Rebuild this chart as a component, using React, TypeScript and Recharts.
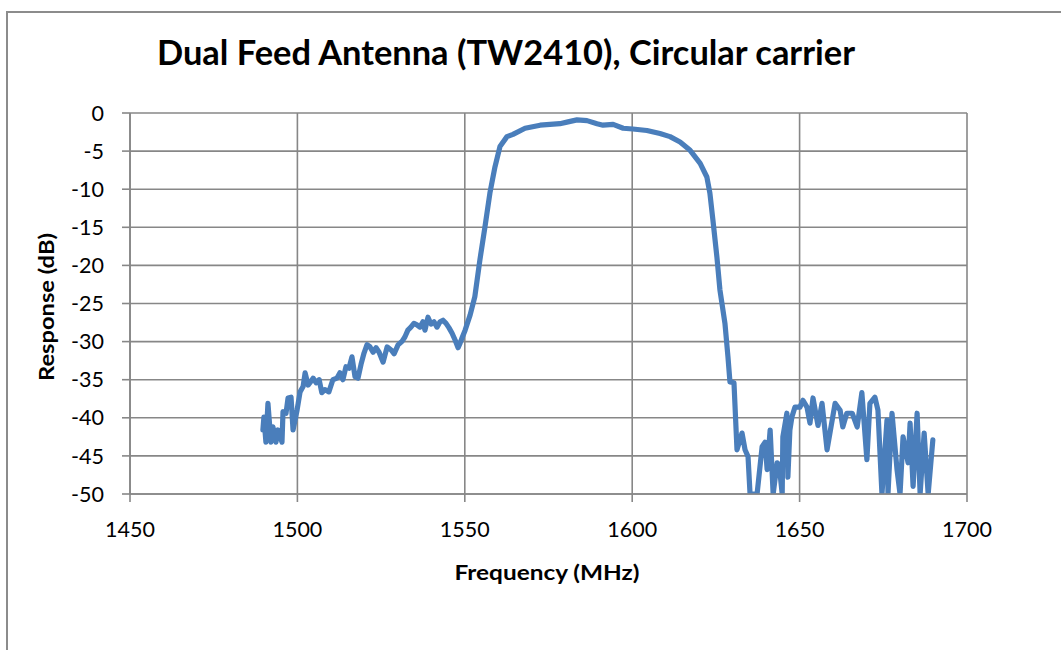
import React from 'react';
import { LineChart, Line, XAxis, YAxis, CartesianGrid } from 'recharts';

const freqMHz = [
  1489.7, 1490.0, 1490.6, 1491.2, 1492.1, 1492.7, 1493.6, 1494.2, 1495.4, 1495.7,
  1496.6, 1497.2, 1498.1, 1498.7, 1499.9, 1500.8, 1501.7, 1502.3, 1503.2, 1504.1,
  1504.7, 1505.6, 1506.5, 1507.3, 1508.2, 1509.4, 1510.6, 1511.8, 1512.7, 1513.6,
  1514.5, 1515.4, 1516.3, 1517.2, 1518.1, 1519.0, 1519.9, 1520.8, 1521.7, 1522.6,
  1523.5, 1524.4, 1525.6, 1526.8, 1528.0, 1528.9, 1530.1, 1531.2, 1532.1, 1533.0,
  1533.9, 1534.8, 1535.7, 1536.6, 1537.5, 1538.1, 1539.0, 1539.9, 1540.8, 1541.7,
  1542.6, 1543.5, 1544.4, 1545.3, 1546.2, 1547.1, 1548.0, 1548.6, 1549.2, 1550.1,
  1551.6, 1553.0, 1554.5, 1556.0, 1557.5, 1559.0, 1560.5, 1562.6, 1564.4, 1568.0,
  1572.5, 1578.4, 1580.5, 1583.5, 1586.5, 1589.5, 1591.3, 1594.3, 1597.3, 1600.2,
  1604.4, 1608.3, 1611.3, 1614.3, 1617.3, 1620.3, 1622.3, 1623.2, 1624.1, 1625.3,
  1626.2, 1627.7, 1628.6, 1629.2, 1630.4, 1631.3, 1632.8, 1633.7, 1634.6, 1635.2,
  1637.3, 1638.8, 1639.7, 1640.3, 1641.2, 1642.1, 1643.3, 1643.9, 1644.8, 1645.0,
  1646.2, 1646.5, 1647.1, 1647.7, 1648.6, 1650.1, 1651.0, 1652.2, 1653.1, 1654.0,
  1655.5, 1656.7, 1658.2, 1660.6, 1662.1, 1662.9, 1664.1, 1665.7, 1667.2, 1668.6,
  1670.1, 1671.0, 1672.5, 1673.4, 1674.6, 1676.1, 1676.4, 1677.6, 1679.1, 1680.0,
  1680.9, 1682.4, 1683.0, 1683.9, 1685.1, 1686.0, 1687.2, 1688.4, 1689.8,
];

const responseDb = [
  -41.6, -39.9, -43.2, -38.1, -43.2, -41.2, -43.2, -41.6, -43.2, -39.2,
  -39.4, -37.4, -37.3, -41.6, -39.0, -36.6, -35.9, -34.1, -35.7, -35.2,
  -34.8, -35.4, -35.0, -36.7, -36.3, -36.6, -35.0, -34.8, -34.1, -35.0,
  -33.3, -33.5, -32.0, -34.6, -34.8, -33.0, -31.5, -30.4, -30.7, -31.4,
  -30.8, -31.4, -32.7, -30.7, -31.1, -31.6, -30.4, -30.0, -29.4, -28.5,
  -28.1, -27.6, -27.8, -28.1, -27.4, -28.5, -26.8, -27.7, -27.4, -28.1,
  -27.4, -27.2, -27.6, -28.2, -28.9, -29.8, -30.8, -30.2, -29.5, -28.5,
  -26.5, -24.1, -19.3, -15.0, -10.5, -7.1, -4.4, -3.1, -2.8, -2.0,
  -1.6, -1.4, -1.2, -0.9, -1.0, -1.4, -1.6, -1.5, -2.0, -2.1,
  -2.3, -2.7, -3.1, -3.8, -4.9, -6.6, -8.4, -10.5, -14.0, -18.9,
  -23.2, -27.6, -32.0, -35.3, -35.4, -44.2, -42.0, -44.2, -45.1, -50,
  -50, -43.8, -43.2, -46.8, -41.6, -50, -45.9, -46.2, -50, -42.5,
  -39.4, -47.8, -41.6, -39.9, -38.6, -38.6, -37.7, -38.6, -40.7, -37.4,
  -41.0, -38.1, -44.2, -38.1, -39.0, -41.2, -39.4, -39.4, -41.2, -36.7,
  -45.5, -38.1, -37.3, -39.0, -50, -40.3, -50, -39.4, -46.8, -50,
  -42.5, -45.9, -40.7, -49.0, -39.4, -50, -42.0, -50, -42.9,
];

const xTicks = [1450, 1500, 1550, 1600, 1650, 1700];
const yTicks = [0, -5, -10, -15, -20, -25, -30, -35, -40, -45, -50];

const titleText = 'Dual Feed Antenna (TW2410), Circular carrier';
const xAxisTitle = 'Frequency (MHz)';
const yAxisTitle = 'Response (dB)';

const data = freqMHz.map((f, i) => ({ f, r: responseDb[i] }));

const GRID = '#878787';
const FONT = 'Lato, "Open Sans", sans-serif';

export default function App() {
  return (
    <div style={{ position: 'fixed', left: 0, top: 0, width: 1061, height: 650, overflow: 'hidden', background: '#fff' }}>
      <div
        style={{
          position: 'absolute', left: 6, top: 11, width: 1200, height: 800,
          borderTop: '2px solid #8c8c8c', borderLeft: '2px solid #8c8c8c',
        }}
      />
      <div style={{ position: 'absolute', left: 0, top: 0 }}>
        <LineChart width={1061} height={650} data={data} margin={{ top: 113, right: 94, bottom: 116, left: 70 }}>
          <CartesianGrid stroke={GRID} strokeWidth={1.6} />
          <XAxis
            dataKey="f"
            type="number"
            domain={[1450, 1700]}
            ticks={xTicks}
            allowDataOverflow
            height={40}
            stroke={GRID}
            strokeWidth={1.6}
            tickSize={8}
            tickMargin={20}
            tick={{ fill: '#000', fontSize: 21.5, fontFamily: FONT }}
            tickLine={{ stroke: GRID, strokeWidth: 1.6 }}
          />
          <YAxis
            type="number"
            domain={[-50, 0]}
            ticks={yTicks}
            allowDataOverflow
            width={60}
            stroke={GRID}
            strokeWidth={1.6}
            tickSize={8}
            tickMargin={18}
            tick={{ fill: '#000', fontSize: 21.5, fontFamily: FONT }}
            tickLine={{ stroke: GRID, strokeWidth: 1.6 }}
          />
          <Line
            dataKey="r"
            type="linear"
            stroke="#4a7ebb"
            strokeWidth={5.2}
            strokeLinejoin="round"
            strokeLinecap="round"
            dot={false}
            activeDot={false}
            isAnimationActive={false}
          />
        </LineChart>
      </div>
      <svg style={{ position: 'absolute', left: 0, top: 0, pointerEvents: 'none' }} width={1061} height={650}>
        <text x={506} y={65} textAnchor="middle" textLength={698} lengthAdjust="spacingAndGlyphs"
          fontFamily={FONT} fontWeight="bold" fontSize={35} fill="#000">{titleText}</text>
        <text x={547} y={580} textAnchor="middle" textLength={185} lengthAdjust="spacingAndGlyphs"
          fontFamily={FONT} fontWeight="bold" fontSize={21.5} fill="#000">{xAxisTitle}</text>
        <text x={0} y={0} transform="translate(54 307) rotate(-90)" textAnchor="middle" textLength={148}
          lengthAdjust="spacingAndGlyphs" fontFamily={FONT} fontWeight="bold" fontSize={21.5} fill="#000">{yAxisTitle}</text>
      </svg>
    </div>
  );
}
